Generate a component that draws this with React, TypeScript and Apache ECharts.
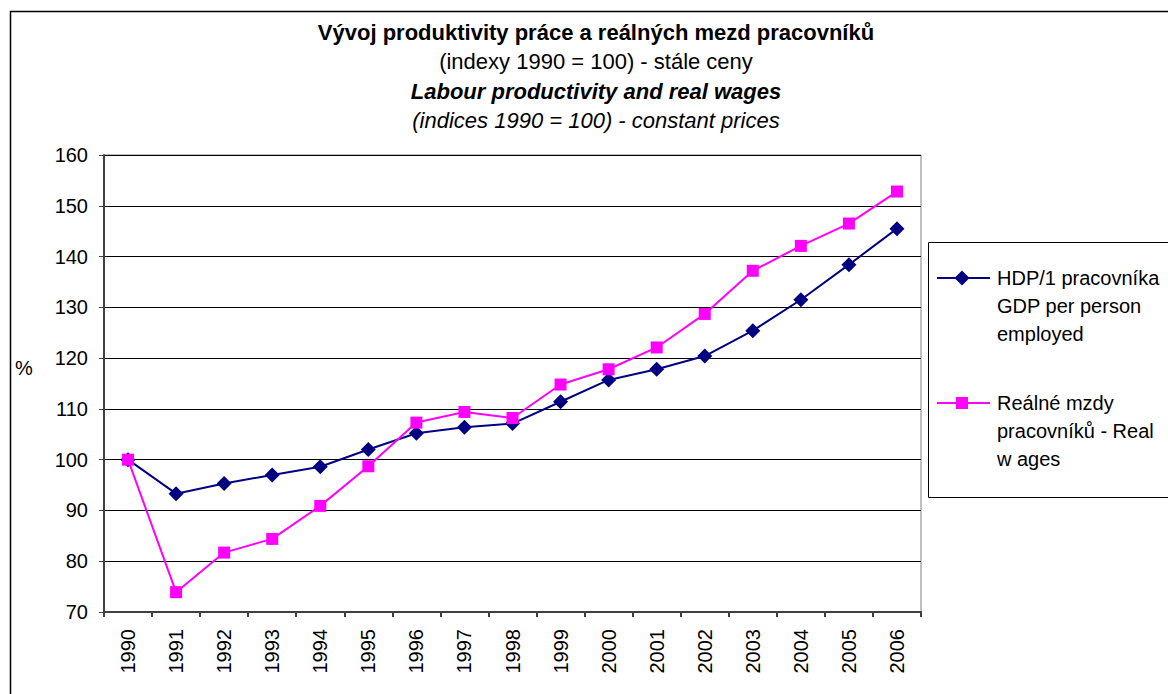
import React, { useEffect, useRef } from "react";
import * as echarts from "echarts";

const years = ["1990","1991","1992","1993","1994","1995","1996","1997","1998","1999","2000","2001","2002","2003","2004","2005","2006"];
const gdpPerWorker = [100, 93.3, 95.3, 97.0, 98.6, 102.0, 105.2, 106.4, 107.1, 111.4, 115.7, 117.8, 120.4, 125.4, 131.5, 138.4, 145.5];
const realWages = [100, 73.9, 81.7, 84.4, 90.9, 98.7, 107.3, 109.4, 108.2, 114.8, 117.8, 122.1, 128.7, 137.2, 142.1, 146.5, 152.8];
const yTicks = { min: 70, max: 160, interval: 10 };
const titleLines = [
  "Vývoj produktivity práce a reálných mezd pracovníků",
  "(indexy 1990 = 100) - stále ceny",
  "Labour productivity and real wages",
  "(indices 1990 = 100) - constant prices",
];
const seriesNames = ["HDP/1 pracovníka\nGDP per person\nemployed", "Reálné mzdy\npracovníků - Real\nw ages"];

const FONT = "'Liberation Sans', Arial, sans-serif";
const NAVY = "#000080";
const MAGENTA = "#FF00FF";

export default function App() {
  const ref = useRef<HTMLDivElement>(null);
  useEffect(() => {
    if (!ref.current) return;
    const chart = echarts.init(ref.current, null, { renderer: "svg" });
    const titleStyles = [
      { y: 32, fontWeight: "bold", fontStyle: "normal", fontSize: 22 },
      { y: 61, fontWeight: "normal", fontStyle: "normal", fontSize: 22 },
      { y: 91, fontWeight: "bold", fontStyle: "italic", fontSize: 22 },
      { y: 120, fontWeight: "normal", fontStyle: "italic", fontSize: 22 },
    ];
    const legendText = (text: string, top: number) => ({
      type: "text",
      x: 997,
      y: top,
      style: { text, verticalAlign: "top", fontFamily: FONT, fontSize: 20, lineHeight: 28, fill: "#000" },
    });
    const graphic: any[] = [
      { type: "rect", shape: { x: 10.5, y: 11.5, width: 1200, height: 800 }, style: { fill: "none", stroke: "#000", lineWidth: 1.5 }, z: -10 },
      ...titleLines.map((t, i) => ({
        type: "text",
        x: 596,
        y: titleStyles[i].y,
        style: {
          text: t,
          align: "center",
          verticalAlign: "middle",
          fontFamily: FONT,
          fontSize: titleStyles[i].fontSize,
          fontWeight: titleStyles[i].fontWeight,
          fontStyle: titleStyles[i].fontStyle,
          fill: "#000",
        },
      })),
      { type: "text", x: 24, y: 368, style: { text: "%", align: "center", verticalAlign: "middle", fontFamily: FONT, fontSize: 20, fill: "#000" } },
      { type: "rect", shape: { x: 928.5, y: 242.5, width: 260, height: 255 }, style: { fill: "#fff", stroke: "#000", lineWidth: 1 } },
      { type: "line", shape: { x1: 937, y1: 278, x2: 990, y2: 278 }, style: { stroke: NAVY, lineWidth: 2 } },
      { type: "polygon", shape: { points: [[962, 270.5], [969.5, 278], [962, 285.5], [954.5, 278]] }, style: { fill: NAVY } },
      legendText(seriesNames[0], 264),
      { type: "line", shape: { x1: 937, y1: 403, x2: 990, y2: 403 }, style: { stroke: MAGENTA, lineWidth: 2 } },
      { type: "rect", shape: { x: 956, y: 397, width: 12, height: 12 }, style: { fill: MAGENTA } },
      legendText(seriesNames[1], 389),
    ];

    chart.setOption({
      animation: false,
      backgroundColor: "#fff",
      textStyle: { fontFamily: FONT },
      grid: { left: 104, right: 247, top: 155, bottom: 82, show: true, borderColor: "#808080", borderWidth: 1, backgroundColor: "#fff" },
      xAxis: {
        type: "category",
        data: years,
        boundaryGap: true,
        axisLine: { lineStyle: { color: "#404040", width: 2 } },
        axisTick: { show: true, length: 5, lineStyle: { color: "#404040", width: 2 } },
        axisLabel: { rotate: 90, margin: 17, fontSize: 20, color: "#000", fontFamily: FONT },
        splitLine: { show: false },
      },
      yAxis: {
        type: "value",
        min: yTicks.min,
        max: yTicks.max,
        interval: yTicks.interval,
        axisLine: { show: true, lineStyle: { color: "#404040", width: 2 } },
        axisTick: { show: true, length: 5, lineStyle: { color: "#404040", width: 1 } },
        axisLabel: { fontSize: 20, color: "#000", margin: 16, fontFamily: FONT },
        splitLine: { show: true, lineStyle: { color: "#000", width: 1 } },
      },
      legend: { show: false },
      series: [
        {
          name: seriesNames[0],
          type: "line",
          data: gdpPerWorker,
          symbol: "diamond",
          symbolSize: 15,
          itemStyle: { color: NAVY },
          lineStyle: { color: NAVY, width: 2 },
          z: 3,
        },
        {
          name: seriesNames[1],
          type: "line",
          data: realWages,
          symbol: "rect",
          symbolSize: 12,
          itemStyle: { color: MAGENTA },
          lineStyle: { color: MAGENTA, width: 2 },
          z: 4,
        },
      ],
      graphic,
    });
    return () => chart.dispose();
  }, []);
  return <div ref={ref} style={{ position: "fixed", left: 0, top: 0, width: 1168, height: 694 }} />;
}
